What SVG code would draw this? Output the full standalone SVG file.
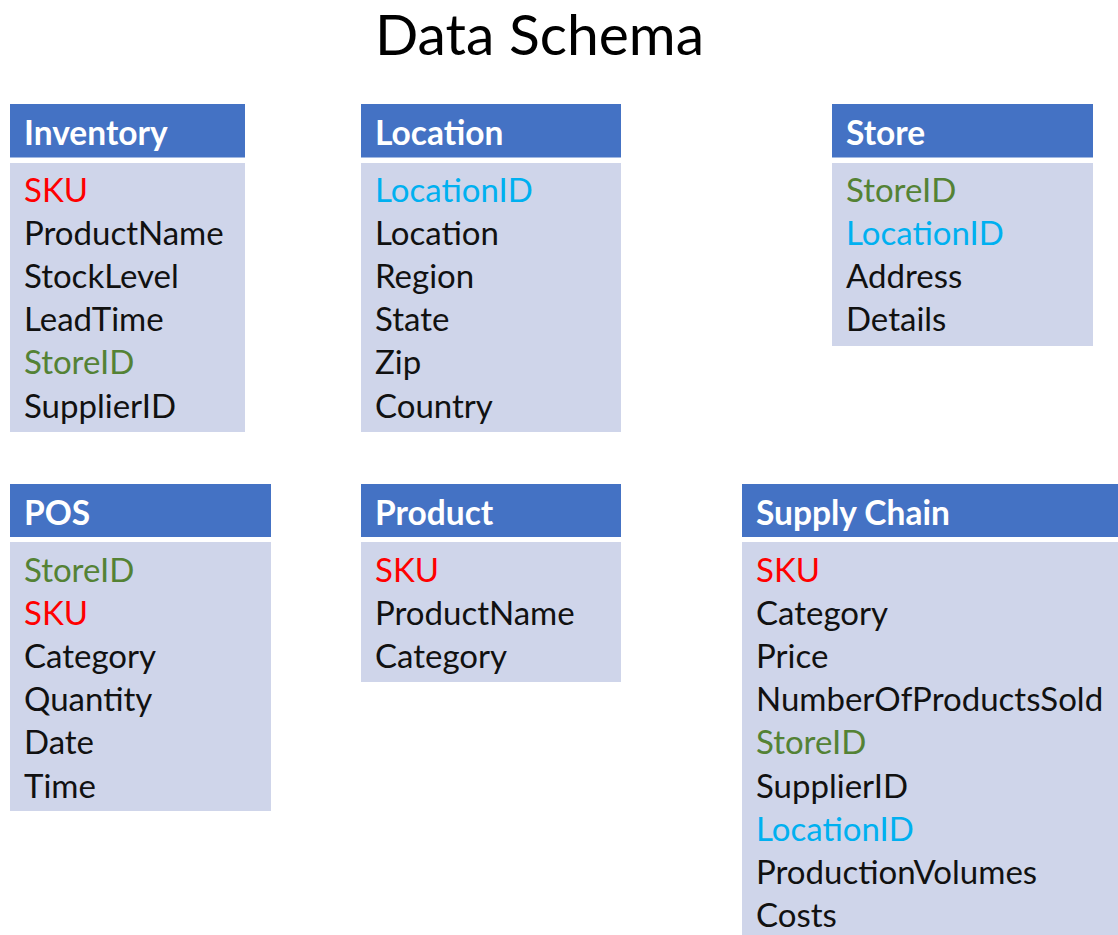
<svg xmlns="http://www.w3.org/2000/svg" width="1118" height="935" viewBox="0 0 1118 935">
<style>
.hd{fill:#4472C4}
.bd{fill:#CFD5EA}
.ht{font-family:Lato,"Liberation Sans",sans-serif;font-weight:bold;font-size:33.5px;fill:#FFFFFF}
.ft{font-family:Lato,"Liberation Sans",sans-serif;font-size:33px;fill:#111111}
.sku{fill:#FF0000}
.sid{fill:#548235}
.lid{fill:#00B0F0}
.title{font-family:Lato,"Liberation Sans",sans-serif;font-size:57px;fill:#000000}
</style>
<rect width="1118" height="935" fill="#FFFFFF"/>
<text class="title" x="375" y="55">Data Schema</text>

<g id="inventory">
<rect class="hd" x="10" y="104" width="235" height="53.5"/>
<rect class="bd" x="10" y="163" width="235" height="269"/>
<text class="ht" x="24" y="144.5">Inventory</text>
<text class="ft sku" x="24" y="201.5">SKU</text>
<text class="ft" x="24" y="244.7">ProductName</text>
<text class="ft" x="24" y="287.9">StockLevel</text>
<text class="ft" x="24" y="331.1">LeadTime</text>
<text class="ft sid" x="24" y="374.3">StoreID</text>
<text class="ft" x="24" y="417.5">SupplierID</text>
</g>

<g id="location">
<rect class="hd" x="361" y="104" width="260" height="53.5"/>
<rect class="bd" x="361" y="163" width="260" height="269"/>
<text class="ht" x="375" y="144.5">Location</text>
<text class="ft lid" x="375" y="201.5">LocationID</text>
<text class="ft" x="375" y="244.7">Location</text>
<text class="ft" x="375" y="287.9">Region</text>
<text class="ft" x="375" y="331.1">State</text>
<text class="ft" x="375" y="374.3">Zip</text>
<text class="ft" x="375" y="417.5">Country</text>
</g>

<g id="store">
<rect class="hd" x="832" y="104" width="261" height="53.5"/>
<rect class="bd" x="832" y="163" width="261" height="183"/>
<text class="ht" x="846" y="144.5">Store</text>
<text class="ft sid" x="846" y="201.5">StoreID</text>
<text class="ft lid" x="846" y="244.7">LocationID</text>
<text class="ft" x="846" y="287.9">Address</text>
<text class="ft" x="846" y="331.1">Details</text>
</g>

<g id="pos">
<rect class="hd" x="10" y="484" width="261" height="53"/>
<rect class="bd" x="10" y="542" width="261" height="269"/>
<text class="ht" x="24" y="524.5">POS</text>
<text class="ft sid" x="24" y="581.5">StoreID</text>
<text class="ft sku" x="24" y="624.7">SKU</text>
<text class="ft" x="24" y="667.9">Category</text>
<text class="ft" x="24" y="711.1">Quantity</text>
<text class="ft" x="24" y="754.3">Date</text>
<text class="ft" x="24" y="797.5">Time</text>
</g>

<g id="product">
<rect class="hd" x="361" y="484" width="260" height="53"/>
<rect class="bd" x="361" y="542" width="260" height="140"/>
<text class="ht" x="375" y="524.5">Product</text>
<text class="ft sku" x="375" y="581.5">SKU</text>
<text class="ft" x="375" y="624.7">ProductName</text>
<text class="ft" x="375" y="667.9">Category</text>
</g>

<g id="supply-chain">
<rect class="hd" x="742" y="484" width="376" height="53"/>
<rect class="bd" x="742" y="542" width="376" height="393"/>
<text class="ht" x="756" y="524.5">Supply Chain</text>
<text class="ft sku" x="756" y="581.5">SKU</text>
<text class="ft" x="756" y="624.7">Category</text>
<text class="ft" x="756" y="667.9">Price</text>
<text class="ft" x="756" y="711.1">NumberOfProductsSold</text>
<text class="ft sid" x="756" y="754.3">StoreID</text>
<text class="ft" x="756" y="797.5">SupplierID</text>
<text class="ft lid" x="756" y="840.7">LocationID</text>
<text class="ft" x="756" y="883.9">ProductionVolumes</text>
<text class="ft" x="756" y="927.1">Costs</text>
</g>

<g id="connectors"></g>
</svg>
